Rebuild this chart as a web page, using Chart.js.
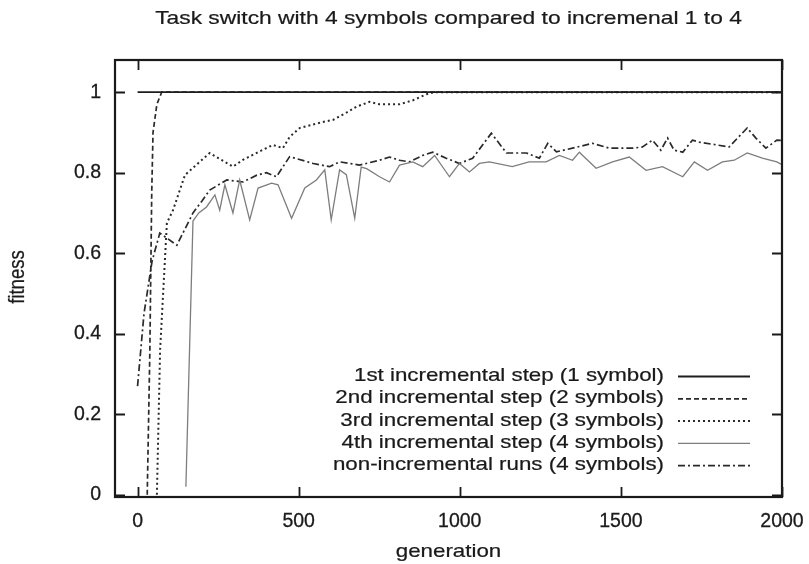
<!DOCTYPE html>
<html>
<head>
<meta charset="utf-8">
<script src="https://cdn.jsdelivr.net/npm/chart.js@4/dist/chart.umd.min.js"></script>
<style>
  html, body { margin: 0; padding: 0; background: #fff; }
  #wrap { width: 809px; height: 564px; position: relative; }
</style>
</head>
<body>
<div id="wrap"><canvas id="c" width="809" height="564"></canvas></div>
<script>
// ---- data ----
const chartTitle = "Task switch with 4 symbols compared to incremenal 1 to 4";
const xAxisTitle = "generation";
const yAxisTitle = "fitness";
const xTickValues = [0, 500, 1000, 1500, 2000];
const yTickValues = [0, 0.2, 0.4, 0.6, 0.8, 1];
const yTickLabels = ["0", "0.2", "0.4", "0.6", "0.8", "1"];

const seriesLabels = [
  "1st incremental step (1 symbol)",
  "2nd incremental step (2 symbols)",
  "3rd incremental step (3 symbols)",
  "4th incremental step (4 symbols)",
  "non-incremental runs (4 symbols)"
];

const step1Gen = [0, 2000];
const step1Fit = [1, 1];

const step2Gen = [30, 38, 44, 48, 60, 75, 2000];
const step2Fit = [0, 0.35, 0.75, 0.9, 0.97, 1, 1];

const step3Gen = [60, 70, 91, 110, 147, 183, 224, 296, 327, 389, 420, 451, 472, 503, 575, 606, 648, 679, 720, 751, 813, 855, 897, 920, 2000];
const step3Fit = [0, 0.36, 0.675, 0.707, 0.794, 0.82, 0.849, 0.815, 0.832, 0.857, 0.869, 0.861, 0.889, 0.911, 0.926, 0.931, 0.949, 0.964, 0.976, 0.97, 0.97, 0.98, 0.995, 1, 1];

const step4Gen = [150, 172, 190, 214, 240, 255, 271, 296, 317, 348, 374, 416, 436, 478, 519, 555, 581, 601, 627, 648, 674, 694, 711, 751, 782, 813, 854, 885, 922, 968, 999, 1030, 1061, 1092, 1163, 1215, 1268, 1309, 1350, 1371, 1423, 1474, 1526, 1578, 1629, 1692, 1728, 1769, 1815, 1852, 1892, 1939, 1984, 2000];
const step4Fit = [0.02, 0.68, 0.70, 0.715, 0.745, 0.707, 0.77, 0.70, 0.782, 0.683, 0.762, 0.774, 0.77, 0.687, 0.762, 0.782, 0.807, 0.683, 0.807, 0.795, 0.687, 0.814, 0.81, 0.79, 0.777, 0.819, 0.827, 0.815, 0.843, 0.79, 0.823, 0.802, 0.823, 0.827, 0.815, 0.827, 0.827, 0.843, 0.831, 0.851, 0.811, 0.827, 0.839, 0.806, 0.815, 0.79, 0.827, 0.806, 0.827, 0.831, 0.849, 0.836, 0.827, 0.82];

const nonIncGen = [0, 20, 45, 69, 122, 172, 200, 224, 277, 327, 370, 400, 431, 472, 545, 596, 627, 689, 751, 782, 813, 844, 885, 916, 958, 999, 1040, 1098, 1145, 1207, 1247, 1273, 1300, 1350, 1412, 1464, 1537, 1567, 1598, 1624, 1645, 1665, 1692, 1722, 1743, 1836, 1862, 1892, 1919, 1950, 1984, 2000];
const nonIncFit = [0.27, 0.45, 0.58, 0.65, 0.62, 0.70, 0.73, 0.757, 0.782, 0.777, 0.794, 0.80, 0.79, 0.84, 0.823, 0.815, 0.827, 0.819, 0.831, 0.839, 0.831, 0.827, 0.843, 0.851, 0.836, 0.823, 0.836, 0.898, 0.849, 0.849, 0.836, 0.873, 0.852, 0.861, 0.873, 0.861, 0.861, 0.864, 0.881, 0.856, 0.886, 0.856, 0.851, 0.881, 0.876, 0.864, 0.886, 0.911, 0.886, 0.861, 0.881, 0.88];

// ---- styling ----
const FONT = '"Liberation Sans", Arial, Helvetica, sans-serif';
const TEXT_STRETCH = 1.2;
const INK = '#1a1a1a';
const TEXT_STROKE = 0.22;

function pts(xs, ys) { return xs.map((x, i) => ({ x: x, y: ys[i] })); }

const styles = [
  { color: '#1e1e1e', width: 1.8, dash: [] },
  { color: '#2a2a2a', width: 1.7, dash: [5, 3] },
  { color: '#2a2a2a', width: 2.0, dash: [2, 3] },
  { color: '#7d7d7d', width: 1.3, dash: [] },
  { color: '#2a2a2a', width: 1.7, dash: [7, 3, 2, 3] }
];
const seriesData = [
  pts(step1Gen, step1Fit),
  pts(step2Gen, step2Fit),
  pts(step3Gen, step3Fit),
  pts(step4Gen, step4Fit),
  pts(nonIncGen, nonIncFit)
];

const datasets = seriesData.map((d, i) => ({
  label: seriesLabels[i],
  data: d,
  showLine: true,
  borderColor: styles[i].color,
  borderWidth: styles[i].width,
  borderDash: styles[i].dash,
  pointRadius: 0,
  tension: 0,
  fill: false
}));

function stretchedText(ctx, text, x, y, align, size) {
  ctx.save();
  ctx.font = size + 'px ' + FONT;
  ctx.fillStyle = INK;
  ctx.strokeStyle = INK;
  ctx.lineWidth = TEXT_STROKE;
  ctx.textBaseline = 'middle';
  ctx.textAlign = align;
  ctx.translate(x, y);
  ctx.scale(TEXT_STRETCH, 1);
  ctx.fillText(text, 0, 0);
  ctx.strokeText(text, 0, 0);
  ctx.restore();
}

const framePlugin = {
  id: 'frame',
  afterDatasetsDraw(chart) {
    const ctx = chart.ctx;
    const a = chart.chartArea;
    const xs = chart.scales.x, ys = chart.scales.y;
    ctx.save();
    ctx.strokeStyle = INK;
    ctx.lineWidth = 1.8;
    ctx.setLineDash([]);
    const tl = 10;
    ctx.beginPath();
    xTickValues.forEach(v => {
      const px = Math.round(xs.getPixelForValue(v)) + 0.5;
      ctx.moveTo(px, a.bottom); ctx.lineTo(px, a.bottom - tl);
      ctx.moveTo(px, a.top); ctx.lineTo(px, a.top + tl);
    });
    yTickValues.forEach(v => {
      const py = Math.round(ys.getPixelForValue(v)) + 0.5;
      ctx.moveTo(a.left, py); ctx.lineTo(a.left + tl, py);
      ctx.moveTo(a.right, py); ctx.lineTo(a.right - tl, py);
    });
    ctx.stroke();
    ctx.lineWidth = 2.2;
    ctx.strokeRect(a.left, a.top, a.right - a.left, a.bottom - a.top);
    ctx.restore();

    // legend (inside, bottom right; text right-aligned, sample to the right)
    const textRight = 664;
    const sampleX0 = 678, sampleX1 = 750;
    const rowY0 = 376, rowStep = 22.3;
    chart.data.datasets.forEach((ds, i) => {
      const y = rowY0 + i * rowStep;
      stretchedText(ctx, ds.label, textRight, y, 'right', 18.6);
      ctx.save();
      ctx.strokeStyle = ds.borderColor;
      ctx.lineWidth = ds.borderWidth;
      ctx.setLineDash(ds.borderDash);
      ctx.beginPath();
      ctx.moveTo(sampleX0, y + 0.5); ctx.lineTo(sampleX1, y + 0.5);
      ctx.stroke();
      ctx.restore();
    });

    // title and axis titles
    const cx = (a.left + a.right) / 2;
    stretchedText(ctx, chartTitle, cx, 19, 'center', 19);
    stretchedText(ctx, xAxisTitle, cx, 552, 'center', 18.6);
    ctx.save();
    ctx.font = '18.6px ' + FONT;
    ctx.fillStyle = INK;
    ctx.strokeStyle = INK;
    ctx.lineWidth = TEXT_STROKE;
    ctx.textAlign = 'center';
    ctx.textBaseline = 'middle';
    ctx.translate(18, 277);
    ctx.rotate(-Math.PI / 2);
    ctx.scale(1, TEXT_STRETCH);
    ctx.fillText(yAxisTitle, 0, 0);
    ctx.strokeText(yAxisTitle, 0, 0);
    ctx.restore();
  }
};

new Chart(document.getElementById('c'), {
  type: 'scatter',
  data: { datasets: datasets },
  options: {
    responsive: false,
    animation: false,
    events: [],
    layout: { padding: { top: 60, right: 27, left: 0, bottom: 0 } },
    plugins: { legend: { display: false }, tooltip: { enabled: false }, title: { display: false } },
    scales: {
      x: {
        type: 'linear',
        min: -70, max: 2000,
        grid: { display: false, drawTicks: false },
        border: { display: false },
        afterBuildTicks: s => { s.ticks = xTickValues.map(v => ({ value: v })); },
        afterFit: s => { s.height = 67; s.paddingLeft = 0; s.paddingRight = 0; },
        ticks: {
          padding: 13,
          color: INK,
          textStrokeColor: INK,
          textStrokeWidth: 0.3,
          font: { family: FONT, size: 19.5 },
          maxRotation: 0,
          callback: v => String(v)
        }
      },
      y: {
        type: 'linear',
        min: -0.0055, max: 1.08,
        grid: { display: false, drawTicks: false },
        border: { display: false },
        afterBuildTicks: s => { s.ticks = yTickValues.map(v => ({ value: v })); },
        afterFit: s => { s.width = 115; s.paddingTop = 0; s.paddingBottom = 0; },
        ticks: {
          padding: 14,
          color: INK,
          textStrokeColor: INK,
          textStrokeWidth: 0.3,
          font: { family: FONT, size: 19.5 },
          callback: (v) => { const i = yTickValues.findIndex(t => Math.abs(t - v) < 1e-9); return i >= 0 ? yTickLabels[i] : ''; }
        }
      }
    }
  },
  plugins: [framePlugin]
});
</script>
</body>
</html>
